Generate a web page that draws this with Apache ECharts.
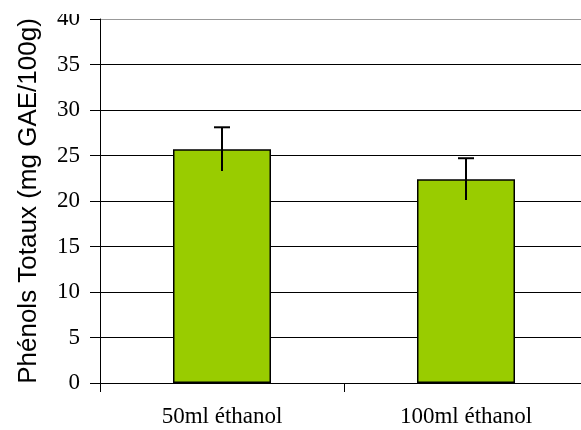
<!DOCTYPE html>
<html>
<head>
<meta charset="utf-8">
<script src="https://cdn.jsdelivr.net/npm/echarts@6/dist/echarts.min.js"></script>
<style>
html,body{margin:0;padding:0;background:#fff;}
#chart{width:581px;height:430px;}
</style>
</head>
<body>
<div id="chart"></div>
<script>
var categories = ['50ml éthanol', '100ml éthanol'];
var means = [25.7, 22.4];
var errors = [2.4, 2.3];
var yTicks = [0, 5, 10, 15, 20, 25, 30, 35, 40];
var yAxisTitle = 'Phénols Totaux (mg GAE/100g)';

var chart = echarts.init(document.getElementById('chart'), null, {renderer: 'canvas'});

var errData = means.map(function (m, i) { return [i, m - errors[i], m + errors[i]]; });
var splitColors = yTicks.map(function (t, i) { return i === yTicks.length - 1 ? '#999999' : '#000000'; });

chart.setOption({
  animation: false,
  backgroundColor: '#ffffff',
  grid: {left: 100, top: 19, bottom: 47, width: 488, containLabel: false, outerBoundsMode: 'none'},
  xAxis: {
    type: 'category',
    data: categories,
    axisLine: {lineStyle: {color: '#000', width: 1}},
    axisTick: {show: true, length: 9, lineStyle: {color: '#000'}},
    axisLabel: {fontFamily: 'Liberation Serif', fontSize: 23, color: '#000', margin: 22},
    splitLine: {show: false}
  },
  yAxis: {
    type: 'value',
    min: yTicks[0],
    max: yTicks[yTicks.length - 1],
    interval: 5,
    name: yAxisTitle,
    nameLocation: 'middle',
    nameGap: 58,
    nameTextStyle: {fontFamily: 'Liberation Sans', fontSize: 26, color: '#000'},
    axisLine: {show: true, lineStyle: {color: '#000', width: 1}},
    axisTick: {show: true, length: 10, inside: false, lineStyle: {color: '#000'}},
    axisLabel: {fontFamily: 'Liberation Serif', fontSize: 23, color: '#000', margin: 20},
    splitLine: {show: true, lineStyle: {color: splitColors, width: 1}}
  },
  series: [
    {
      type: 'bar',
      data: means,
      barWidth: 98,
      itemStyle: {color: '#99CC00', borderColor: '#000', borderWidth: 1.5},
      z: 2
    },
    {
      type: 'custom',
      data: errData,
      z: 5,
      renderItem: function (params, api) {
        var x = api.value(0);
        var lo = api.coord([x, api.value(1)]);
        var hi = api.coord([x, api.value(2)]);
        var hw = 8;
        var style = {stroke: '#000', lineWidth: 2};
        return {
          type: 'group',
          children: [
            {type: 'line', shape: {x1: lo[0], y1: lo[1], x2: hi[0], y2: hi[1]}, style: style},
            {type: 'line', shape: {x1: hi[0] - hw, y1: hi[1], x2: hi[0] + hw, y2: hi[1]}, style: style}
          ]
        };
      }
    }
  ],
  graphic: [
    {type: 'rect', left: 0, top: 0, shape: {width: 581, height: 14}, style: {fill: '#fff'}, z: 100, silent: true}
  ]
});
</script>
</body>
</html>
